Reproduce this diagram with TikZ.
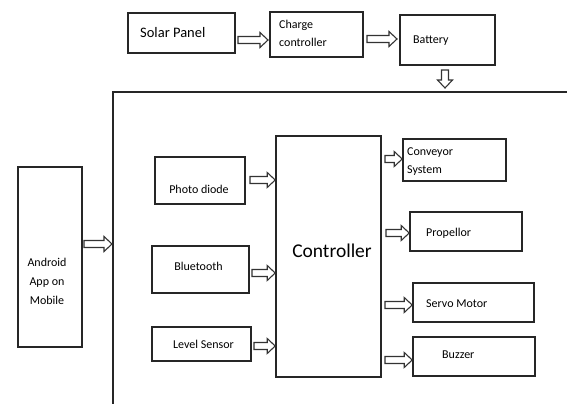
\documentclass[tikz,border=0pt]{standalone}
\usepackage{fontspec}
\setmainfont{Carlito}
\usetikzlibrary{calc}
\newcommand\arrR[2]{% hollow block arrow pointing right from #1 to #2
  \draw[harrow] let \p1=(#1), \p2=(#2) in
    (\x1,\y1+3.5pt) -- (\x2-8pt,\y1+3.5pt) -- (\x2-8pt,\y1+7.5pt) -- (\x2,\y1)
    -- (\x2-8pt,\y1-7.5pt) -- (\x2-8pt,\y1-3.5pt) -- (\x1,\y1-3.5pt) -- cycle;}
\newcommand\arrD[2]{% hollow block arrow pointing down from #1 to #2
  \draw[harrow] let \p1=(#1), \p2=(#2) in
    (\x1+3.5pt,\y1) -- (\x1+3.5pt,\y2+8pt) -- (\x1+7.5pt,\y2+8pt) -- (\x1,\y2)
    -- (\x1-7.5pt,\y2+8pt) -- (\x1-3.5pt,\y2+8pt) -- (\x1-3.5pt,\y1) -- cycle;}
\begin{document}
\begin{tikzpicture}[x=1pt,y=-1pt,
  box/.style={draw=black!85,line width=1.6pt,inner sep=0pt},
  thickbox/.style={draw=black!85,line width=2.4pt,inner sep=0pt},
  txt/.style={inner sep=0pt,font=\fontsize{12}{14}\selectfont,text=black},
  harrow/.style={draw=black!80,line width=1.1pt,line join=miter},
]
\fill[white] (0,0) rectangle (567,404);
\useasboundingbox (0,0) rectangle (567,404);
% top row
\node[thickbox,minimum width=107pt,minimum height=40pt] (solar) at (181.5,33) {};
\node[txt,anchor=west,font=\fontsize{14.5}{16}\selectfont] (solart) at (140,33) {Solar Panel};
\node[thickbox,minimum width=93pt,minimum height=45pt] (charge) at (316.5,34.5) {};
\node[txt,anchor=west,align=left,font=\fontsize{12}{18}\selectfont] (charget) at (279,33) {Charge\\controller};
\node[thickbox,minimum width=95pt,minimum height=50pt] (battery) at (447.5,40) {};
\node[txt,anchor=west] (batteryt) at (413,41) {Battery};
% frame
\coordinate (fr) at (567,92);
\coordinate (ftl) at (113,92);
\coordinate (fb) at (113,404);
\draw[black!85,line width=1.3pt] (fr) -- (ftl) -- (fb);
% arrows top
\coordinate (a1s) at (238,40); \coordinate (a1e) at (268,40);
\coordinate (a2s) at (367,39); \coordinate (a2e) at (397,39);
\coordinate (a3s) at (445,70); \coordinate (a3e) at (445,88);
\arrR{a1s}{a1e}
\arrR{a2s}{a2e}
\arrD{a3s}{a3e}
% left
\node[box,minimum width=64pt,minimum height=180pt] (android) at (50,257) {};
\node[txt,align=center,font=\fontsize{12}{19}\selectfont] (androidt) at (47,281) {Android\\App on\\Mobile};
\coordinate (a4s) at (84,244); \coordinate (a4e) at (112,244);
\arrR{a4s}{a4e}
% inputs
\node[box,minimum width=90pt,minimum height=47pt] (photo) at (200,180.5) {};
\node[txt] (photot) at (199,189) {Photo diode};
\node[box,minimum width=97pt,minimum height=47pt] (bt) at (200.5,269.5) {};
\node[txt] (btt) at (198.5,266) {Bluetooth};
\node[box,minimum width=99pt,minimum height=34pt] (level) at (201.5,344) {};
\node[txt] (levelt) at (203.5,344) {Level Sensor};
% controller
\node[box,minimum width=105pt,minimum height=241pt] (ctrl) at (328.5,256.5) {};
\node[txt,font=\fontsize{19.5}{22}\selectfont] (ctrlt) at (332,251) {Controller};
\coordinate (a5s) at (250,180); \coordinate (a5e) at (ctrl.west |- a5s);
\coordinate (a6s) at (252,273); \coordinate (a6e) at (ctrl.west |- a6s);
\coordinate (a7s) at (254,346); \coordinate (a7e) at (ctrl.west |- a7s);
\arrR{a5s}{a5e}
\arrR{a6s}{a6e}
\arrR{a7s}{a7e}
% outputs
\node[box,minimum width=103pt,minimum height=42pt] (conv) at (454.5,160) {};
\node[txt,anchor=west,align=left,font=\fontsize{12}{18}\selectfont] (convt) at (407,162) {Conveyor\\System};
\node[box,minimum width=112pt,minimum height=39pt] (prop) at (466,231.5) {};
\node[txt,anchor=west] (propt) at (426,233) {Propellor};
\node[box,minimum width=121pt,minimum height=39pt] (servo) at (473.5,302.5) {};
\node[txt,anchor=west] (servot) at (426,304) {Servo Motor};
\node[box,minimum width=122pt,minimum height=39pt] (buzz) at (474,356.5) {};
\node[txt,anchor=west] (buzzt) at (442,355) {Buzzer};
\coordinate (a8s) at (385,159); \coordinate (a8e) at (conv.west |- a8s);
\coordinate (a9s) at (386,233); \coordinate (a9e) at (prop.west |- a9s);
\coordinate (a10s) at (385,305); \coordinate (a10e) at (servo.west |- a10s);
\coordinate (a11s) at (385,360); \coordinate (a11e) at (buzz.west |- a11s);
\arrR{a8s}{a8e}
\arrR{a9s}{a9e}
\arrR{a10s}{a10e}
\arrR{a11s}{a11e}
\end{tikzpicture}
\end{document}
